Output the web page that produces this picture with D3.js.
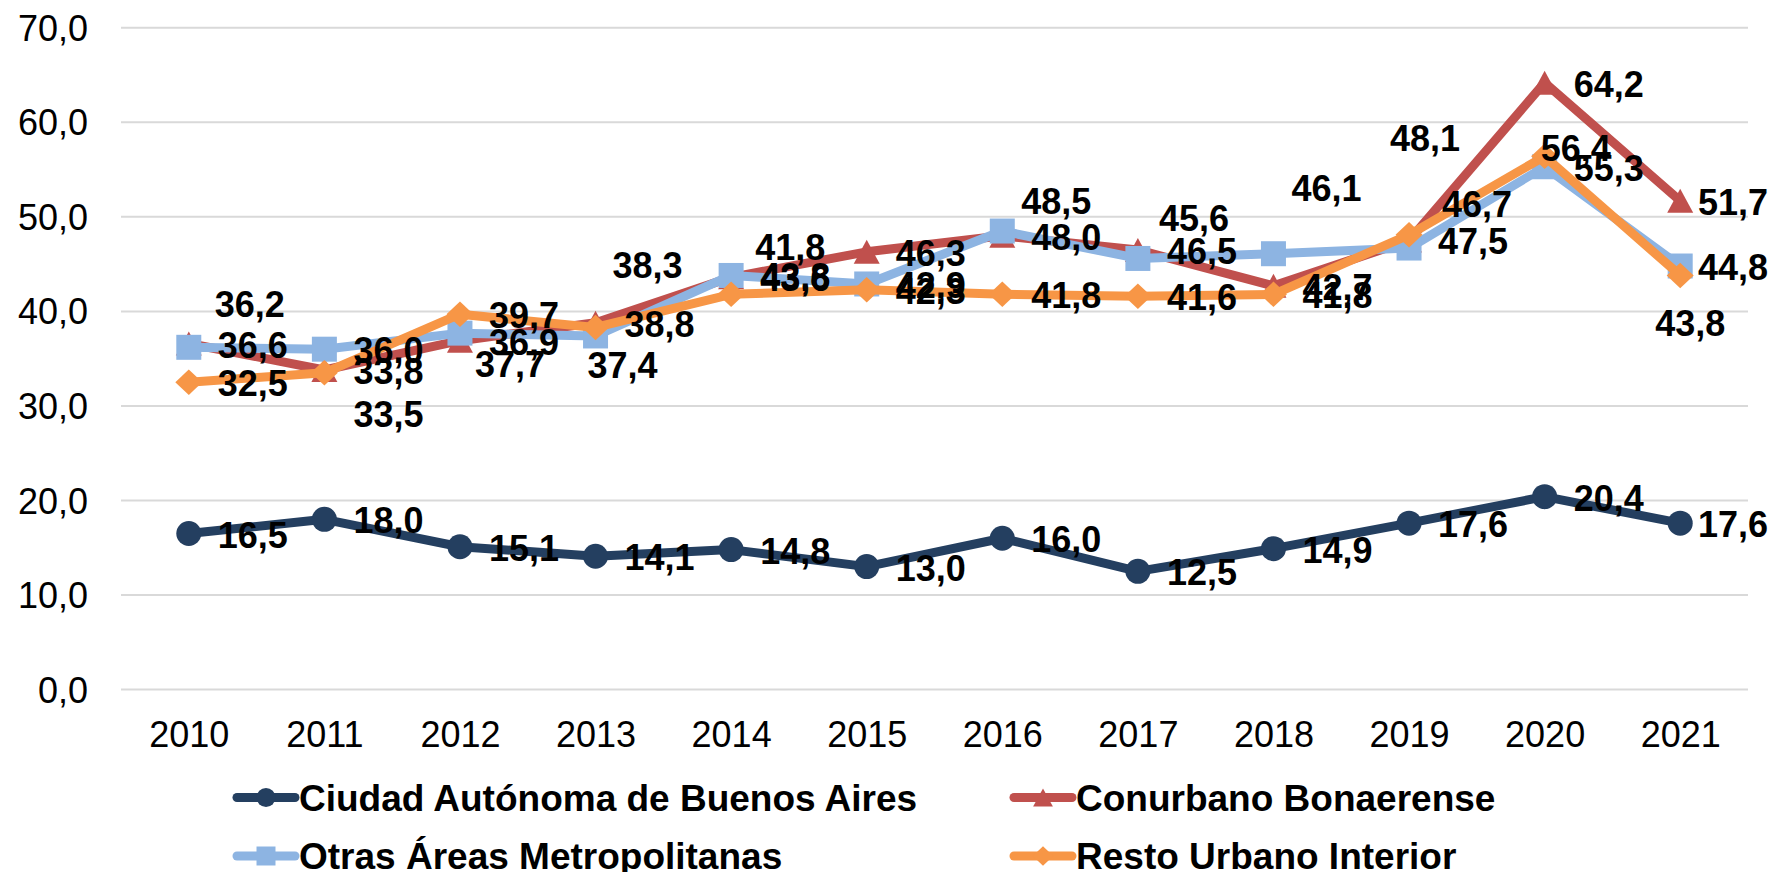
<!DOCTYPE html>
<html>
<head>
<meta charset="utf-8">
<script src="https://cdn.jsdelivr.net/npm/d3@7"></script>
<style>
  html, body { margin: 0; padding: 0; background: #ffffff; }
  svg { display: block; }
</style>
</head>
<body>
<svg id="chart" width="1773" height="872"></svg>
<script>
// ---- Data -------------------------------------------------------------
const years = ["2010", "2011", "2012", "2013", "2014", "2015", "2016", "2017", "2018", "2019", "2020", "2021"];
const yTickValues = [0, 10, 20, 30, 40, 50, 60, 70];

const seriesNames = [
  "Ciudad Autónoma de Buenos Aires",
  "Conurbano Bonaerense",
  "Otras Áreas Metropolitanas",
  "Resto Urbano Interior"
];
const cabaValues      = [16.5, 18.0, 15.1, 14.1, 14.8, 13.0, 16.0, 12.5, 14.9, 17.6, 20.4, 17.6];
const conurbanoValues = [36.6, 33.8, 36.9, 38.8, 43.6, 46.3, 48.0, 46.5, 42.7, 47.5, 64.2, 51.7];
const otrasValues     = [36.2, 36.0, 37.7, 37.4, 43.8, 42.9, 48.5, 45.6, 46.1, 46.7, 55.3, 44.8];
const restoValues     = [32.5, 33.5, 39.7, 38.3, 41.8, 42.3, 41.8, 41.6, 41.8, 48.1, 56.4, 43.8];

// ---- Styling ----------------------------------------------------------
const seriesStyles = [
  { color: "#243F60", marker: "circle" },
  { color: "#C0504D", marker: "triangle" },
  { color: "#8DB4E2", marker: "square" },
  { color: "#F79646", marker: "diamond" }
];

// Data labels sit to the right of each point by default; a few were moved by hand.
// Offsets: [left edge from point x, text middle from point y]
const defaultLabelOffset = [29, 1];
const labelNudges = {
  "Otras Áreas Metropolitanas": {
    "2010": [26, -43], "2012": [15, 31], "2013": [-8, 29], "2016": [19, -30],
    "2017": [21, -40], "2018": [18, -66], "2019": [33, -44]
  },
  "Resto Urbano Interior": {
    "2011": [29, 41], "2013": [17, -62], "2014": [24, -47],
    "2019": [-19, -97], "2020": [-4, -8], "2021": [-25, 48]
  }
};

const series = seriesNames.map((name, i) => ({
  name,
  values: [cabaValues, conurbanoValues, otrasValues, restoValues][i],
  ...seriesStyles[i]
}));

const fmt = v => d3.format(".1f")(v).replace(".", ",");
const FONT = "'Liberation Sans', Arial, Helvetica, sans-serif";
const CHART_RIGHT = 1768; // labels are kept inside the chart frame

// ---- Scales -----------------------------------------------------------
const svg = d3.select("#chart");
const x = d3.scalePoint().domain(years).range([121, 1748]).padding(0.5);
const y = d3.scaleLinear().domain([0, 70]).range([689.5, 27.8]);

// ---- Gridlines and axes ----------------------------------------------
svg.append("g")
  .selectAll("line")
  .data(yTickValues)
  .join("line")
  .attr("x1", 121).attr("x2", 1748)
  .attr("y1", d => y(d)).attr("y2", d => y(d))
  .attr("stroke", "#D9D9D9")
  .attr("stroke-width", 2);

const yAxis = svg.append("g")
  .attr("transform", "translate(88,0)")
  .call(d3.axisLeft(y).tickValues(yTickValues).tickFormat(fmt).tickSize(0).tickPadding(0));
yAxis.select(".domain").remove();
yAxis.selectAll("text")
  .attr("font-family", FONT)
  .attr("font-size", 36)
  .attr("fill", "#000")
  .attr("dy", "0.35em");

const xAxis = svg.append("g")
  .attr("transform", "translate(0,689.5)")
  .call(d3.axisBottom(x).tickSize(0).tickPadding(0));
xAxis.select(".domain").remove();
xAxis.selectAll("text")
  .attr("font-family", FONT)
  .attr("font-size", 36)
  .attr("fill", "#000")
  .attr("dy", "57px");

// ---- Marker shapes ----------------------------------------------------
function markerPath(type, s) {
  // s = nominal marker size in px
  const h = s / 2;
  switch (type) {
    case "circle":
      return `M${-h},0A${h},${h} 0 1,0 ${h},0A${h},${h} 0 1,0 ${-h},0Z`;
    case "square":
      return `M${-h},${-h}H${h}V${h}H${-h}Z`;
    case "triangle":
      return `M0,${-h * 0.96}L${h * 1.04},${h * 0.96}L${-h * 1.04},${h * 0.96}Z`;
    case "diamond":
      return `M0,${-h * 1.02}L${h * 1.08},0L0,${h * 1.02}L${-h * 1.08},0Z`;
  }
}

// ---- Lines and markers -----------------------------------------------
const line = d3.line()
  .x((d, i) => x(years[i]))
  .y(d => y(d));

series.forEach(s => {
  const g = svg.append("g");
  g.append("path")
    .attr("d", line(s.values))
    .attr("fill", "none")
    .attr("stroke", s.color)
    .attr("stroke-width", 9)
    .attr("stroke-linejoin", "round")
    .attr("stroke-linecap", "round");
  g.selectAll("path.marker")
    .data(s.values)
    .join("path")
    .attr("class", "marker")
    .attr("d", markerPath(s.marker, 25))
    .attr("transform", (d, i) => `translate(${x(years[i])},${y(d)})`)
    .attr("fill", s.color);
});

// ---- Data labels ------------------------------------------------------
series.forEach(s => {
  const nudges = labelNudges[s.name] || {};
  svg.append("g")
    .selectAll("text")
    .data(s.values)
    .join("text")
    .attr("x", (d, i) => x(years[i]) + (nudges[years[i]] || defaultLabelOffset)[0])
    .attr("y", (d, i) => y(d) + (nudges[years[i]] || defaultLabelOffset)[1] + 13)
    .attr("font-family", FONT)
    .attr("font-size", 36)
    .attr("font-weight", "bold")
    .attr("fill", "#000")
    .text(d => fmt(d))
    .each(function () {
      // shift labels left when they would run past the chart frame
      const el = d3.select(this);
      const w = this.getComputedTextLength();
      const x0 = +el.attr("x");
      if (x0 + w > CHART_RIGHT) el.attr("x", CHART_RIGHT - w);
    });
});

// ---- Legend -----------------------------------------------------------
const legendSlots = [
  { x: 237, y: 797.5 },
  { x: 1014, y: 797.5 },
  { x: 237, y: 856 },
  { x: 1014, y: 856 }
];
series.forEach((s, i) => {
  const slot = legendSlots[i];
  const g = svg.append("g").attr("transform", `translate(${slot.x},${slot.y})`);
  g.append("line")
    .attr("x1", 0).attr("x2", 58)
    .attr("y1", 0).attr("y2", 0)
    .attr("stroke", s.color)
    .attr("stroke-width", 9)
    .attr("stroke-linecap", "round");
  g.append("path")
    .attr("d", markerPath(s.marker, 19))
    .attr("transform", "translate(29,0)")
    .attr("fill", s.color);
  g.append("text")
    .attr("x", 62)
    .attr("y", 13)
    .attr("font-family", FONT)
    .attr("font-size", 37)
    .attr("font-weight", "bold")
    .attr("fill", "#000")
    .text(s.name);
});
</script>
</body>
</html>
